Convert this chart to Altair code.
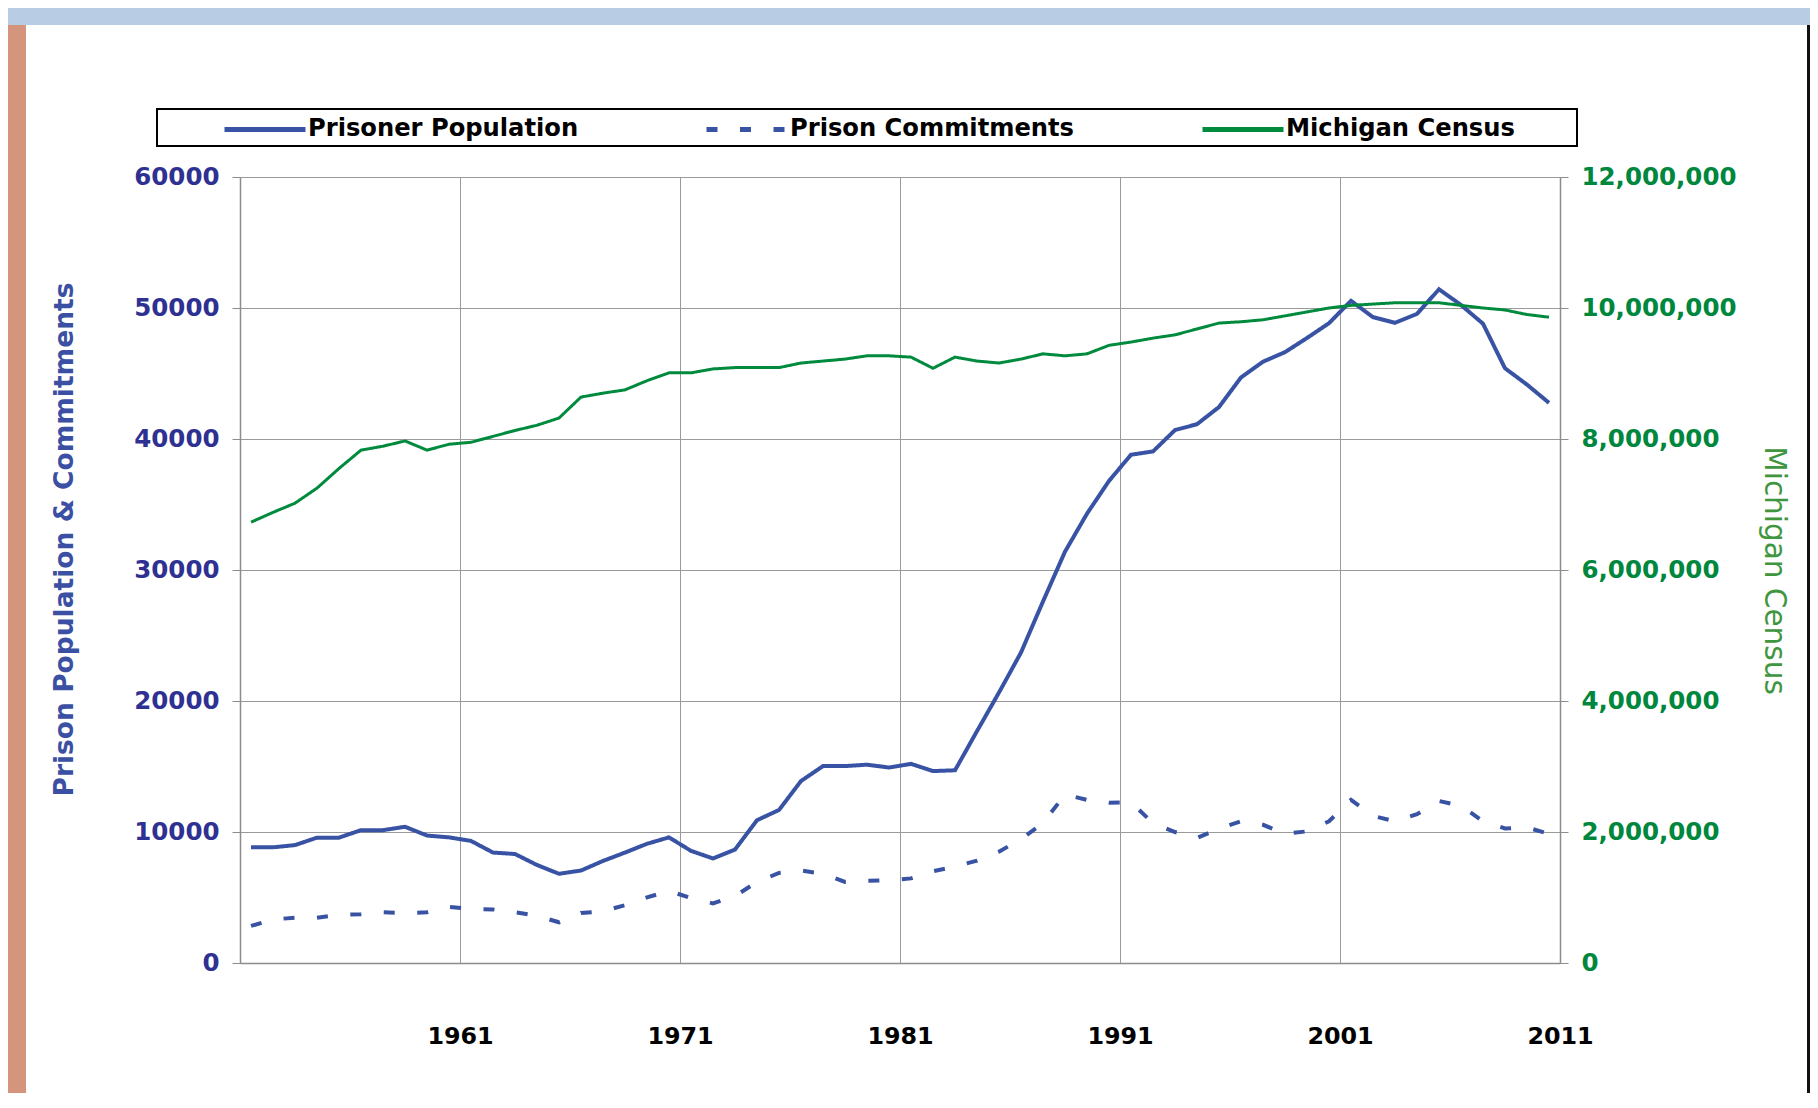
import altair as alt
import pandas as pd

# ---- data ----
years = list(range(1951, 2011))
prisoners = [8830, 8830, 9000, 9570, 9570, 10140, 10140, 10400, 9730, 9590,
             9320, 8430, 8320, 7480, 6810, 7060, 7790, 8430, 9100, 9590,
             8560, 7980, 8660, 10900, 11680, 13890, 15030, 15030, 15140, 14920,
             15200, 14650, 14710, 17700, 20650, 23700, 27600, 31400, 34300, 36800,
             38800, 39050, 40680, 41130, 42440, 44700, 45900, 46630, 47710, 48840,
             50550, 49300, 48870, 49550, 51430, 50230, 48800, 45400, 44150, 42760]
commitments = [2830, 3320, 3460, 3460, 3680, 3730, 3870, 3810, 3870, 4280,
               4140, 4090, 3870, 3600, 3110, 3810, 3950, 4410, 5010, 5500,
               4960, 4550, 5100, 6190, 6870, 7060, 6810, 6190, 6270, 6320,
               6460, 7000, 7360, 7820, 8500, 9460, 10680, 12860, 12450, 12240,
               12260, 10680, 10000, 9540, 10270, 10820, 10550, 9860, 10050, 10820,
               12450, 11230, 10820, 11360, 12370, 12000, 10820, 10270, 10350, 9860]
census = [6730000, 6880000, 7020000, 7250000, 7550000, 7830000, 7890000, 7970000, 7830000, 7920000,
          7950000, 8040000, 8130000, 8210000, 8320000, 8640000, 8700000, 8750000, 8890000, 9010000,
          9010000, 9070000, 9090000, 9090000, 9090000, 9160000, 9190000, 9220000, 9270000, 9270000,
          9250000, 9080000, 9250000, 9190000, 9160000, 9220000, 9300000, 9270000, 9300000, 9430000,
          9480000, 9540000, 9590000, 9680000, 9770000, 9790000, 9820000, 9880000, 9940000, 10000000,
          10040000, 10060000, 10080000, 10080000, 10080000, 10040000, 10000000, 9970000, 9900000, 9860000]

series_names = ["Prisoner Population", "Prison Commitments", "Michigan Census"]
x_ticks = [1961, 1971, 1981, 1991, 2001, 2011]
left_ticks = [0, 10000, 20000, 30000, 40000, 50000, 60000]
right_ticks = [0, 2000000, 4000000, 6000000, 8000000, 10000000, 12000000]

BLUE = "#3953A4"
GREEN = "#008A3E"
GRID = "#9A9A9A"
FONT = "DejaVu Sans"

df = pd.DataFrame({
    "year": years * 3,
    "series": [series_names[0]] * len(years) + [series_names[1]] * len(years) + [series_names[2]] * len(years),
    "value": prisoners + commitments + census,
})

W, H = 1320, 786

x_enc = alt.X(
    "xpos:Q",
    scale=alt.Scale(domain=[1951, 2011], nice=False, zero=False),
    axis=alt.Axis(
        values=x_ticks, format="d", title=None, grid=True, gridColor=GRID, gridWidth=1,
        ticks=False, tickSize=0, labelPadding=61, labelFont=FONT, labelFontSize=23.8,
        labelFontWeight="bold", labelColor="#000000", labelFlush=False, labelOverlap=False,
        domainColor="#8C8C8C", domainWidth=1.5,
    ),
)

legend = alt.Legend(
    title=None, orient="none", legendX=-18, legendY=-91, direction="horizontal",
    columns=3, columnPadding=117, symbolType="stroke", symbolSize=6561,
    symbolStrokeWidth=5, labelFont=FONT, labelFontSize=24.2, labelFontWeight="bold",
    labelColor="#000000", labelLimit=600, labelOffset=0, padding=0,
)
color_enc = alt.Color("series:N", scale=alt.Scale(domain=series_names, range=[BLUE, BLUE, GREEN]), legend=legend)
dash_enc = alt.StrokeDash("series:N", scale=alt.Scale(domain=series_names, range=[[1, 0], [11, 22.5], [1, 0]]), legend=legend)

base = alt.Chart(df).transform_calculate(xpos="datum.year + 0.5")

left_y = alt.Y(
    "value:Q",
    scale=alt.Scale(domain=[0, 60000], nice=False),
    axis=alt.Axis(
        orient="left", values=left_ticks, format="d", grid=True, gridColor=GRID, gridWidth=1,
        tickSize=8, tickColor="#8C8C8C", domainColor="#8C8C8C", domainWidth=1.5,
        labelPadding=13, labelFont=FONT, labelFontSize=24.5, labelFontWeight="bold",
        labelColor="#2E3192",
        title="Prison Population & Commitments", titleFont=FONT, titleFontSize=26.5,
        titleFontWeight="bold", titleColor="#3B50A3", titleAngle=270,
        titleX=-176, titleY=362, titleAlign="center", titleBaseline="middle",
    ),
)

prison_line = base.transform_filter(
    alt.FieldEqualPredicate(field="series", equal=series_names[0])
).mark_line(strokeWidth=4).encode(x=x_enc, y=left_y, color=color_enc, strokeDash=dash_enc)

commit_line = base.transform_filter(
    alt.FieldEqualPredicate(field="series", equal=series_names[1])
).mark_line(strokeWidth=4).encode(x=x_enc, y=left_y, color=color_enc, strokeDash=dash_enc)

left_layer = alt.layer(prison_line, commit_line)

census_line = base.transform_filter(
    alt.FieldEqualPredicate(field="series", equal=series_names[2])
).mark_line(strokeWidth=3).encode(
    x=x_enc,
    y=alt.Y(
        "value:Q",
        scale=alt.Scale(domain=[0, 12000000], nice=False),
        axis=alt.Axis(
            orient="right", values=right_ticks, format=",d", grid=False,
            tickSize=8, tickColor="#8C8C8C", domainColor="#8C8C8C", domainWidth=1.5,
            labelPadding=13, labelFont=FONT, labelFontSize=24.5, labelFontWeight="bold",
            labelColor="#00873E",
            title="Michigan Census", titleFont=FONT, titleFontSize=29.5,
            titleFontWeight="normal", titleColor="#3F963F", titleAngle=90,
            titleX=213, titleY=393, titleAlign="center", titleBaseline="middle",
        ),
    ),
    color=color_enc,
    strokeDash=dash_enc,
)

# ---- slide decorations (frame pieces around the chart) ----
one = alt.Data(values=[{"k": 1}])
top_band = alt.Chart(one).mark_rect(color="#B8CCE4").encode(
    x=alt.value(-232), x2=alt.value(1570), y=alt.value(-169), y2=alt.value(-152))
left_bar = alt.Chart(one).mark_rect(color="#D4957C").encode(
    x=alt.value(-232), x2=alt.value(-214), y=alt.value(-152), y2=alt.value(916))
right_line = alt.Chart(one).mark_rect(color="#111111").encode(
    x=alt.value(1567), x2=alt.value(1570), y=alt.value(-152), y2=alt.value(916))
legend_box = alt.Chart(one).mark_rect(fill="#FFFFFF", stroke="#000000", strokeWidth=2).encode(
    x=alt.value(-83), x2=alt.value(1337), y=alt.value(-68), y2=alt.value(-31))

chart = alt.layer(
    top_band, left_bar, right_line, legend_box, left_layer, census_line
).resolve_scale(
    y="independent"
).properties(
    width=W, height=H,
    autosize=alt.AutoSizeParams(type="none"),
    padding={"left": 232, "top": 169, "right": 250, "bottom": 130},
    background="#FFFFFF",
).configure_view(
    stroke="transparent"
).configure(
    font=FONT
)

chart.save("out.html", embed_options={"renderer": "svg", "actions": False})
